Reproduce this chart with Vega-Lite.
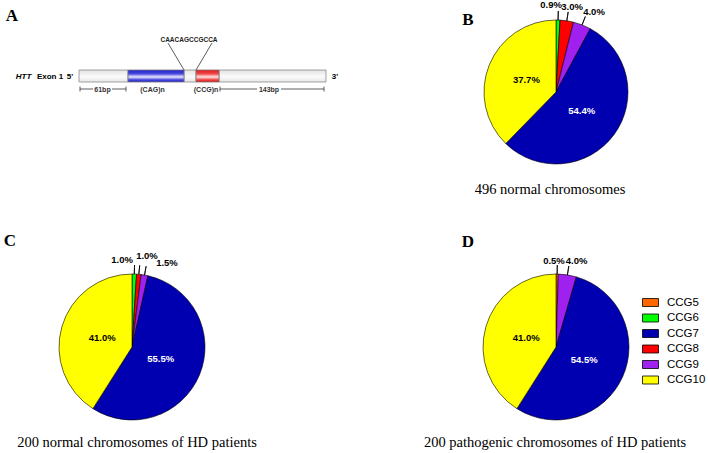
{
  "$schema": "https://vega.github.io/schema/vega-lite/v6.json",
  "padding": 0,
  "background": "white",
  "bounds": "flush",
  "spacing": 0,
  "columns": 2,
  "resolve": {"scale": {"color": "independent"}, "legend": {"color": "independent"}},
  "config": {"view": {"stroke": null}, "axis": {"disable": true}},
  "datasets": {
    "segs": [
      {"seg": "5' flank", "start": 79, "end": 128, "kind": "flank"},
      {"seg": "(CAG)n", "start": 128, "end": 184, "kind": "CAG"},
      {"seg": "linker", "start": 184, "end": 196, "kind": "flank"},
      {"seg": "(CCG)n", "start": 196, "end": 219, "kind": "CCG"},
      {"seg": "3' flank", "start": 219, "end": 326, "kind": "flank"}
    ],
    "b": [
      {"cat": "CCG6", "ord": 2, "p": 0.009},
      {"cat": "CCG8", "ord": 3, "p": 0.03},
      {"cat": "CCG9", "ord": 4, "p": 0.04},
      {"cat": "CCG7", "ord": 5, "p": 0.544},
      {"cat": "CCG10", "ord": 6, "p": 0.377}
    ],
    "c": [
      {"cat": "CCG6", "ord": 2, "p": 0.01},
      {"cat": "CCG8", "ord": 3, "p": 0.01},
      {"cat": "CCG9", "ord": 4, "p": 0.015},
      {"cat": "CCG7", "ord": 5, "p": 0.555},
      {"cat": "CCG10", "ord": 6, "p": 0.41}
    ],
    "d": [
      {"cat": "CCG5", "ord": 1, "p": 0.005},
      {"cat": "CCG9", "ord": 4, "p": 0.04},
      {"cat": "CCG7", "ord": 5, "p": 0.545},
      {"cat": "CCG10", "ord": 6, "p": 0.41}
    ]
  },
  "concat": [
    {
      "width": 430,
      "height": 247,
      "layer": [
        {"data": {"name": "segs"}, "transform": [{"filter": "datum.kind === 'flank'"}],
         "mark": {"type": "rect", "fill": {"gradient": "linear", "x1": 0, "y1": 0, "x2": 0, "y2": 1, "stops": [{"offset": 0, "color": "#e2e2e2"}, {"offset": 0.55, "color": "#fbfbfb"}, {"offset": 1, "color": "#e6e6e6"}]}, "stroke": "#8c8c8c", "strokeWidth": 0.8},
         "encoding": {"x": {"field": "start", "type": "quantitative", "scale": {"domain": [0, 430], "nice": false, "zero": false}, "axis": null}, "x2": {"field": "end"},
                      "y": {"datum": 70, "type": "quantitative", "scale": {"domain": [0, 247], "reverse": true, "nice": false, "zero": false}, "axis": null}, "y2": {"datum": 82}}},
        {"data": {"name": "segs"}, "transform": [{"filter": "datum.kind === 'CAG'"}],
         "mark": {"type": "rect", "fill": {"gradient": "linear", "x1": 0, "y1": 0, "x2": 0, "y2": 1, "stops": [{"offset": 0, "color": "#2626cf"}, {"offset": 0.3, "color": "#4444dc"}, {"offset": 0.58, "color": "#e8e8ff"}, {"offset": 0.82, "color": "#4444dc"}, {"offset": 1, "color": "#2626cf"}]}, "stroke": "#777777", "strokeWidth": 0.8},
         "encoding": {"x": {"field": "start", "type": "quantitative", "scale": {"domain": [0, 430], "nice": false, "zero": false}, "axis": null}, "x2": {"field": "end"},
                      "y": {"datum": 70, "type": "quantitative", "scale": {"domain": [0, 247], "reverse": true, "nice": false, "zero": false}, "axis": null}, "y2": {"datum": 82}}},
        {"data": {"name": "segs"}, "transform": [{"filter": "datum.kind === 'CCG'"}],
         "mark": {"type": "rect", "fill": {"gradient": "linear", "x1": 0, "y1": 0, "x2": 0, "y2": 1, "stops": [{"offset": 0, "color": "#e01a1a"}, {"offset": 0.3, "color": "#ee4444"}, {"offset": 0.58, "color": "#ffe2e2"}, {"offset": 0.82, "color": "#ee4444"}, {"offset": 1, "color": "#e01a1a"}]}, "stroke": "#777777", "strokeWidth": 0.8},
         "encoding": {"x": {"field": "start", "type": "quantitative", "scale": {"domain": [0, 430], "nice": false, "zero": false}, "axis": null}, "x2": {"field": "end"},
                      "y": {"datum": 70, "type": "quantitative", "scale": {"domain": [0, 247], "reverse": true, "nice": false, "zero": false}, "axis": null}, "y2": {"datum": 82}}},
        {"data": {"values": [{}]}, "mark": {"type": "text", "text": "A", "font": "Liberation Serif", "fontSize": 17, "fontWeight": "bold", "color": "black", "baseline": "middle"},
         "encoding": {"x": {"datum": 12, "type": "quantitative", "scale": {"domain": [0, 430], "nice": false, "zero": false}, "axis": null}, "y": {"datum": 16, "type": "quantitative", "scale": {"domain": [0, 247], "reverse": true, "nice": false, "zero": false}, "axis": null}}},
        {"data": {"values": [{}]}, "mark": {"type": "text", "text": "HTT", "font": "Liberation Sans", "fontSize": 8, "fontWeight": "bold", "fontStyle": "italic", "color": "black", "baseline": "middle"},
         "encoding": {"x": {"datum": 23.5, "type": "quantitative", "scale": {"domain": [0, 430], "nice": false, "zero": false}, "axis": null}, "y": {"datum": 76.5, "type": "quantitative", "scale": {"domain": [0, 247], "reverse": true, "nice": false, "zero": false}, "axis": null}}},
        {"data": {"values": [{}]}, "mark": {"type": "text", "text": "Exon 1", "font": "Liberation Sans", "fontSize": 8, "fontWeight": "bold", "color": "black", "baseline": "middle"},
         "encoding": {"x": {"datum": 50, "type": "quantitative", "scale": {"domain": [0, 430], "nice": false, "zero": false}, "axis": null}, "y": {"datum": 76.5, "type": "quantitative", "scale": {"domain": [0, 247], "reverse": true, "nice": false, "zero": false}, "axis": null}}},
        {"data": {"values": [{}]}, "mark": {"type": "text", "text": "5'", "font": "Liberation Sans", "fontSize": 8, "fontWeight": "bold", "color": "black", "baseline": "middle"},
         "encoding": {"x": {"datum": 70, "type": "quantitative", "scale": {"domain": [0, 430], "nice": false, "zero": false}, "axis": null}, "y": {"datum": 76.5, "type": "quantitative", "scale": {"domain": [0, 247], "reverse": true, "nice": false, "zero": false}, "axis": null}}},
        {"data": {"values": [{}]}, "mark": {"type": "text", "text": "3'", "font": "Liberation Sans", "fontSize": 8, "fontWeight": "bold", "color": "black", "baseline": "middle"},
         "encoding": {"x": {"datum": 335, "type": "quantitative", "scale": {"domain": [0, 430], "nice": false, "zero": false}, "axis": null}, "y": {"datum": 76.5, "type": "quantitative", "scale": {"domain": [0, 247], "reverse": true, "nice": false, "zero": false}, "axis": null}}},
        {"data": {"values": [{}]}, "mark": {"type": "text", "text": "CAACAGCCGCCA", "font": "Liberation Sans", "fontSize": 6.5, "fontWeight": "bold", "color": "#222", "baseline": "middle"},
         "encoding": {"x": {"datum": 189, "type": "quantitative", "scale": {"domain": [0, 430], "nice": false, "zero": false}, "axis": null}, "y": {"datum": 39.5, "type": "quantitative", "scale": {"domain": [0, 247], "reverse": true, "nice": false, "zero": false}, "axis": null}}},
        {"data": {"values": [{}]}, "mark": {"type": "rule", "color": "#333", "strokeWidth": 0.8},
         "encoding": {"x": {"datum": 168, "type": "quantitative", "scale": {"domain": [0, 430], "nice": false, "zero": false}, "axis": null}, "x2": {"datum": 184}, "y": {"datum": 43, "type": "quantitative", "scale": {"domain": [0, 247], "reverse": true, "nice": false, "zero": false}, "axis": null}, "y2": {"datum": 70}}},
        {"data": {"values": [{}]}, "mark": {"type": "rule", "color": "#333", "strokeWidth": 0.8},
         "encoding": {"x": {"datum": 212, "type": "quantitative", "scale": {"domain": [0, 430], "nice": false, "zero": false}, "axis": null}, "x2": {"datum": 196}, "y": {"datum": 43, "type": "quantitative", "scale": {"domain": [0, 247], "reverse": true, "nice": false, "zero": false}, "axis": null}, "y2": {"datum": 70}}},
        {"data": {"values": [{}]}, "mark": {"type": "rule", "color": "#333", "strokeWidth": 0.8},
         "encoding": {"x": {"datum": 80, "type": "quantitative", "scale": {"domain": [0, 430], "nice": false, "zero": false}, "axis": null}, "x2": {"datum": 93}, "y": {"datum": 89, "type": "quantitative", "scale": {"domain": [0, 247], "reverse": true, "nice": false, "zero": false}, "axis": null}, "y2": {"datum": 89}}},
        {"data": {"values": [{}]}, "mark": {"type": "rule", "color": "#333", "strokeWidth": 0.8},
         "encoding": {"x": {"datum": 112, "type": "quantitative", "scale": {"domain": [0, 430], "nice": false, "zero": false}, "axis": null}, "x2": {"datum": 126}, "y": {"datum": 89, "type": "quantitative", "scale": {"domain": [0, 247], "reverse": true, "nice": false, "zero": false}, "axis": null}, "y2": {"datum": 89}}},
        {"data": {"values": [{}]}, "mark": {"type": "rule", "color": "#333", "strokeWidth": 0.8},
         "encoding": {"x": {"datum": 80, "type": "quantitative", "scale": {"domain": [0, 430], "nice": false, "zero": false}, "axis": null}, "y": {"datum": 86.5, "type": "quantitative", "scale": {"domain": [0, 247], "reverse": true, "nice": false, "zero": false}, "axis": null}, "y2": {"datum": 91.5}}},
        {"data": {"values": [{}]}, "mark": {"type": "rule", "color": "#333", "strokeWidth": 0.8},
         "encoding": {"x": {"datum": 126, "type": "quantitative", "scale": {"domain": [0, 430], "nice": false, "zero": false}, "axis": null}, "y": {"datum": 86.5, "type": "quantitative", "scale": {"domain": [0, 247], "reverse": true, "nice": false, "zero": false}, "axis": null}, "y2": {"datum": 91.5}}},
        {"data": {"values": [{}]}, "mark": {"type": "rule", "color": "#333", "strokeWidth": 0.8},
         "encoding": {"x": {"datum": 220, "type": "quantitative", "scale": {"domain": [0, 430], "nice": false, "zero": false}, "axis": null}, "x2": {"datum": 257}, "y": {"datum": 89, "type": "quantitative", "scale": {"domain": [0, 247], "reverse": true, "nice": false, "zero": false}, "axis": null}, "y2": {"datum": 89}}},
        {"data": {"values": [{}]}, "mark": {"type": "rule", "color": "#333", "strokeWidth": 0.8},
         "encoding": {"x": {"datum": 281, "type": "quantitative", "scale": {"domain": [0, 430], "nice": false, "zero": false}, "axis": null}, "x2": {"datum": 324}, "y": {"datum": 89, "type": "quantitative", "scale": {"domain": [0, 247], "reverse": true, "nice": false, "zero": false}, "axis": null}, "y2": {"datum": 89}}},
        {"data": {"values": [{}]}, "mark": {"type": "rule", "color": "#333", "strokeWidth": 0.8},
         "encoding": {"x": {"datum": 220, "type": "quantitative", "scale": {"domain": [0, 430], "nice": false, "zero": false}, "axis": null}, "y": {"datum": 86.5, "type": "quantitative", "scale": {"domain": [0, 247], "reverse": true, "nice": false, "zero": false}, "axis": null}, "y2": {"datum": 91.5}}},
        {"data": {"values": [{}]}, "mark": {"type": "rule", "color": "#333", "strokeWidth": 0.8},
         "encoding": {"x": {"datum": 324, "type": "quantitative", "scale": {"domain": [0, 430], "nice": false, "zero": false}, "axis": null}, "y": {"datum": 86.5, "type": "quantitative", "scale": {"domain": [0, 247], "reverse": true, "nice": false, "zero": false}, "axis": null}, "y2": {"datum": 91.5}}},
        {"data": {"values": [{}]}, "mark": {"type": "text", "text": "61bp", "font": "Liberation Sans", "fontSize": 7, "fontWeight": "bold", "color": "#333", "baseline": "middle"},
         "encoding": {"x": {"datum": 102.5, "type": "quantitative", "scale": {"domain": [0, 430], "nice": false, "zero": false}, "axis": null}, "y": {"datum": 89.5, "type": "quantitative", "scale": {"domain": [0, 247], "reverse": true, "nice": false, "zero": false}, "axis": null}}},
        {"data": {"values": [{}]}, "mark": {"type": "text", "text": "(CAG)n", "font": "Liberation Sans", "fontSize": 7, "fontWeight": "bold", "color": "#333", "baseline": "middle"},
         "encoding": {"x": {"datum": 152.5, "type": "quantitative", "scale": {"domain": [0, 430], "nice": false, "zero": false}, "axis": null}, "y": {"datum": 89.5, "type": "quantitative", "scale": {"domain": [0, 247], "reverse": true, "nice": false, "zero": false}, "axis": null}}},
        {"data": {"values": [{}]}, "mark": {"type": "text", "text": "(CCG)n", "font": "Liberation Sans", "fontSize": 7, "fontWeight": "bold", "color": "#333", "baseline": "middle"},
         "encoding": {"x": {"datum": 206, "type": "quantitative", "scale": {"domain": [0, 430], "nice": false, "zero": false}, "axis": null}, "y": {"datum": 89.5, "type": "quantitative", "scale": {"domain": [0, 247], "reverse": true, "nice": false, "zero": false}, "axis": null}}},
        {"data": {"values": [{}]}, "mark": {"type": "text", "text": "143bp", "font": "Liberation Sans", "fontSize": 7, "fontWeight": "bold", "color": "#333", "baseline": "middle"},
         "encoding": {"x": {"datum": 269, "type": "quantitative", "scale": {"domain": [0, 430], "nice": false, "zero": false}, "axis": null}, "y": {"datum": 89.5, "type": "quantitative", "scale": {"domain": [0, 247], "reverse": true, "nice": false, "zero": false}, "axis": null}}}
      ]
    },
    {
      "width": 252,
      "height": 184,
      "data": {"name": "b"},
      "layer": [
        {"mark": {"type": "arc", "radius": 72, "stroke": "black", "strokeWidth": 0.6},
         "encoding": {"theta": {"field": "p", "type": "quantitative", "stack": true}, "order": {"field": "ord", "type": "quantitative"},
                      "color": {"field": "cat", "type": "nominal", "scale": {"domain": ["CCG5", "CCG6", "CCG7", "CCG8", "CCG9", "CCG10"], "range": ["#FF6600", "#00FF00", "#0000B0", "#FF0000", "#A020F0", "#FFFF00"]}, "legend": null}}},
        {"mark": {"type": "arc", "radius": 81, "radius2": 72, "padAngle": 0.6, "fill": "transparent", "stroke": "black", "strokeWidth": 0.8},
         "encoding": {"theta": {"field": "p", "type": "quantitative", "stack": true}, "order": {"field": "ord", "type": "quantitative"},
                      "strokeOpacity": {"condition": {"test": "datum.p < 0.1", "value": 1}, "value": 0}}},
        {"mark": {"type": "text", "radius": 87, "dx": -7.4, "dy": 0, "align": "center", "baseline": "middle", "font": "Liberation Sans", "fontSize": 9.5, "fontWeight": "bold", "color": "black"},
         "encoding": {"theta": {"field": "p", "type": "quantitative", "stack": true}, "order": {"field": "ord", "type": "quantitative"},
                      "text": {"condition": {"test": "datum.cat === 'CCG6'", "field": "p", "type": "quantitative", "format": ".1%"}, "value": ""}}},
        {"mark": {"type": "text", "radius": 87, "dx": 3, "dy": 1, "align": "center", "baseline": "middle", "font": "Liberation Sans", "fontSize": 9.5, "fontWeight": "bold", "color": "black"},
         "encoding": {"theta": {"field": "p", "type": "quantitative", "stack": true}, "order": {"field": "ord", "type": "quantitative"},
                      "text": {"condition": {"test": "datum.cat === 'CCG8'", "field": "p", "type": "quantitative", "format": ".1%"}, "value": ""}}},
        {"mark": {"type": "text", "radius": 87, "dx": 6.5, "dy": 1, "align": "center", "baseline": "middle", "font": "Liberation Sans", "fontSize": 9.5, "fontWeight": "bold", "color": "black"},
         "encoding": {"theta": {"field": "p", "type": "quantitative", "stack": true}, "order": {"field": "ord", "type": "quantitative"},
                      "text": {"condition": {"test": "datum.cat === 'CCG9'", "field": "p", "type": "quantitative", "format": ".1%"}, "value": ""}}},
        {"mark": {"type": "text", "radius": 32, "align": "center", "baseline": "middle", "font": "Liberation Sans", "fontSize": 9.5, "fontWeight": "bold"},
         "encoding": {"theta": {"field": "p", "type": "quantitative", "stack": true}, "order": {"field": "ord", "type": "quantitative"},
                      "text": {"condition": {"test": "datum.p >= 0.1", "field": "p", "type": "quantitative", "format": ".1%"}, "value": ""},
                      "fill": {"condition": {"test": "datum.cat === 'CCG7'", "value": "white"}, "value": "black"}}},
        {"data": {"values": [{}]}, "mark": {"type": "text", "text": "B", "font": "Liberation Serif", "fontSize": 17, "fontWeight": "bold", "color": "black", "baseline": "middle"},
         "encoding": {"x": {"datum": -88, "type": "quantitative", "scale": {"domain": [-126, 126], "nice": false, "zero": false}, "axis": null}, "y": {"datum": -72, "type": "quantitative", "scale": {"domain": [-92, 92], "reverse": true, "nice": false, "zero": false}, "axis": null}}},
        {"data": {"values": [{}]}, "mark": {"type": "text", "text": "496 normal chromosomes", "font": "Liberation Serif", "fontSize": 14.5, "color": "black", "baseline": "middle"},
         "encoding": {"x": {"datum": -6, "type": "quantitative", "scale": {"domain": [-126, 126], "nice": false, "zero": false}, "axis": null}, "y": {"datum": 98, "type": "quantitative", "scale": {"domain": [-92, 92], "reverse": true, "nice": false, "zero": false}, "axis": null}}}
      ]
    },
    {
      "width": 264,
      "height": 200,
      "data": {"name": "c"},
      "layer": [
        {"mark": {"type": "arc", "radius": 73, "stroke": "black", "strokeWidth": 0.6},
         "encoding": {"theta": {"field": "p", "type": "quantitative", "stack": true}, "order": {"field": "ord", "type": "quantitative"},
                      "color": {"field": "cat", "type": "nominal", "scale": {"domain": ["CCG5", "CCG6", "CCG7", "CCG8", "CCG9", "CCG10"], "range": ["#FF6600", "#00FF00", "#0000B0", "#FF0000", "#A020F0", "#FFFF00"]}, "legend": null}}},
        {"mark": {"type": "arc", "radius": 82, "radius2": 73, "padAngle": 0.6, "fill": "transparent", "stroke": "black", "strokeWidth": 0.8},
         "encoding": {"theta": {"field": "p", "type": "quantitative", "stack": true}, "order": {"field": "ord", "type": "quantitative"},
                      "strokeOpacity": {"condition": {"test": "datum.p < 0.1", "value": 1}, "value": 0}}},
        {"mark": {"type": "text", "radius": 87, "dx": -12.7, "dy": 0, "align": "center", "baseline": "middle", "font": "Liberation Sans", "fontSize": 9.5, "fontWeight": "bold", "color": "black"},
         "encoding": {"theta": {"field": "p", "type": "quantitative", "stack": true}, "order": {"field": "ord", "type": "quantitative"},
                      "text": {"condition": {"test": "datum.cat === 'CCG6'", "field": "p", "type": "quantitative", "format": ".1%"}, "value": ""}}},
        {"mark": {"type": "text", "radius": 87, "dx": 6.8, "dy": -4.4, "align": "center", "baseline": "middle", "font": "Liberation Sans", "fontSize": 9.5, "fontWeight": "bold", "color": "black"},
         "encoding": {"theta": {"field": "p", "type": "quantitative", "stack": true}, "order": {"field": "ord", "type": "quantitative"},
                      "text": {"condition": {"test": "datum.cat === 'CCG8'", "field": "p", "type": "quantitative", "format": ".1%"}, "value": ""}}},
        {"mark": {"type": "text", "radius": 87, "dx": 20, "dy": 1.7, "align": "center", "baseline": "middle", "font": "Liberation Sans", "fontSize": 9.5, "fontWeight": "bold", "color": "black"},
         "encoding": {"theta": {"field": "p", "type": "quantitative", "stack": true}, "order": {"field": "ord", "type": "quantitative"},
                      "text": {"condition": {"test": "datum.cat === 'CCG9'", "field": "p", "type": "quantitative", "format": ".1%"}, "value": ""}}},
        {"mark": {"type": "text", "radius": 31, "align": "center", "baseline": "middle", "font": "Liberation Sans", "fontSize": 9.5, "fontWeight": "bold"},
         "encoding": {"theta": {"field": "p", "type": "quantitative", "stack": true}, "order": {"field": "ord", "type": "quantitative"},
                      "text": {"condition": {"test": "datum.p >= 0.1", "field": "p", "type": "quantitative", "format": ".1%"}, "value": ""},
                      "fill": {"condition": {"test": "datum.cat === 'CCG7'", "value": "white"}, "value": "black"}}},
        {"data": {"values": [{}]}, "mark": {"type": "text", "text": "C", "font": "Liberation Serif", "fontSize": 17, "fontWeight": "bold", "color": "black", "baseline": "middle"},
         "encoding": {"x": {"datum": -122, "type": "quantitative", "scale": {"domain": [-132, 132], "nice": false, "zero": false}, "axis": null}, "y": {"datum": -106, "type": "quantitative", "scale": {"domain": [-100, 100], "reverse": true, "nice": false, "zero": false}, "axis": null}}},
        {"data": {"values": [{}]}, "mark": {"type": "text", "text": "200 normal chromosomes of HD patients", "font": "Liberation Serif", "fontSize": 14.5, "color": "black", "baseline": "middle"},
         "encoding": {"x": {"datum": 5, "type": "quantitative", "scale": {"domain": [-132, 132], "nice": false, "zero": false}, "axis": null}, "y": {"datum": 96, "type": "quantitative", "scale": {"domain": [-100, 100], "reverse": true, "nice": false, "zero": false}, "axis": null}}}
      ]
    },
    {
      "width": 252,
      "height": 200,
      "data": {"name": "d"},
      "layer": [
        {"mark": {"type": "arc", "radius": 73, "stroke": "black", "strokeWidth": 0.6},
         "encoding": {"theta": {"field": "p", "type": "quantitative", "stack": true}, "order": {"field": "ord", "type": "quantitative"},
                      "color": {"field": "cat", "type": "nominal", "scale": {"domain": ["CCG5", "CCG6", "CCG7", "CCG8", "CCG9", "CCG10"], "range": ["#FF6600", "#00FF00", "#0000B0", "#FF0000", "#A020F0", "#FFFF00"]},
                                "legend": {"orient": "none", "legendX": 212, "legendY": 47, "title": null, "padding": 0, "symbolType": "M-1,-0.5L1,-0.5L1,0.5L-1,0.5Z", "symbolSize": 256, "symbolStrokeColor": "black", "symbolStrokeWidth": 0.8, "symbolOpacity": 1, "labelFont": "Liberation Sans", "labelFontSize": 11.5, "labelColor": "black", "labelOffset": 8, "rowPadding": 0.5}}}},
        {"mark": {"type": "arc", "radius": 82, "radius2": 73, "padAngle": 0.6, "fill": "transparent", "stroke": "black", "strokeWidth": 0.8},
         "encoding": {"theta": {"field": "p", "type": "quantitative", "stack": true}, "order": {"field": "ord", "type": "quantitative"},
                      "strokeOpacity": {"condition": {"test": "datum.p < 0.1", "value": 1}, "value": 0}}},
        {"mark": {"type": "text", "radius": 87, "dx": -3.4, "dy": 1, "align": "center", "baseline": "middle", "font": "Liberation Sans", "fontSize": 9.5, "fontWeight": "bold", "color": "black"},
         "encoding": {"theta": {"field": "p", "type": "quantitative", "stack": true}, "order": {"field": "ord", "type": "quantitative"},
                      "text": {"condition": {"test": "datum.cat === 'CCG5'", "field": "p", "type": "quantitative", "format": ".1%"}, "value": ""}}},
        {"mark": {"type": "text", "radius": 87, "dx": 7, "dy": 0, "align": "center", "baseline": "middle", "font": "Liberation Sans", "fontSize": 9.5, "fontWeight": "bold", "color": "black"},
         "encoding": {"theta": {"field": "p", "type": "quantitative", "stack": true}, "order": {"field": "ord", "type": "quantitative"},
                      "text": {"condition": {"test": "datum.cat === 'CCG9'", "field": "p", "type": "quantitative", "format": ".1%"}, "value": ""}}},
        {"mark": {"type": "text", "radius": 31, "align": "center", "baseline": "middle", "font": "Liberation Sans", "fontSize": 9.5, "fontWeight": "bold"},
         "encoding": {"theta": {"field": "p", "type": "quantitative", "stack": true}, "order": {"field": "ord", "type": "quantitative"},
                      "text": {"condition": {"test": "datum.p >= 0.1", "field": "p", "type": "quantitative", "format": ".1%"}, "value": ""},
                      "fill": {"condition": {"test": "datum.cat === 'CCG7'", "value": "white"}, "value": "black"}}},
        {"data": {"values": [{}]}, "mark": {"type": "text", "text": "D", "font": "Liberation Serif", "fontSize": 17, "fontWeight": "bold", "color": "black", "baseline": "middle"},
         "encoding": {"x": {"datum": -88, "type": "quantitative", "scale": {"domain": [-126, 126], "nice": false, "zero": false}, "axis": null}, "y": {"datum": -105, "type": "quantitative", "scale": {"domain": [-100, 100], "reverse": true, "nice": false, "zero": false}, "axis": null}}},
        {"data": {"values": [{}]}, "mark": {"type": "text", "text": "200 pathogenic chromosomes of HD patients", "font": "Liberation Serif", "fontSize": 14.5, "color": "black", "baseline": "middle"},
         "encoding": {"x": {"datum": -1, "type": "quantitative", "scale": {"domain": [-126, 126], "nice": false, "zero": false}, "axis": null}, "y": {"datum": 96, "type": "quantitative", "scale": {"domain": [-100, 100], "reverse": true, "nice": false, "zero": false}, "axis": null}}}
      ]
    }
  ]
}
